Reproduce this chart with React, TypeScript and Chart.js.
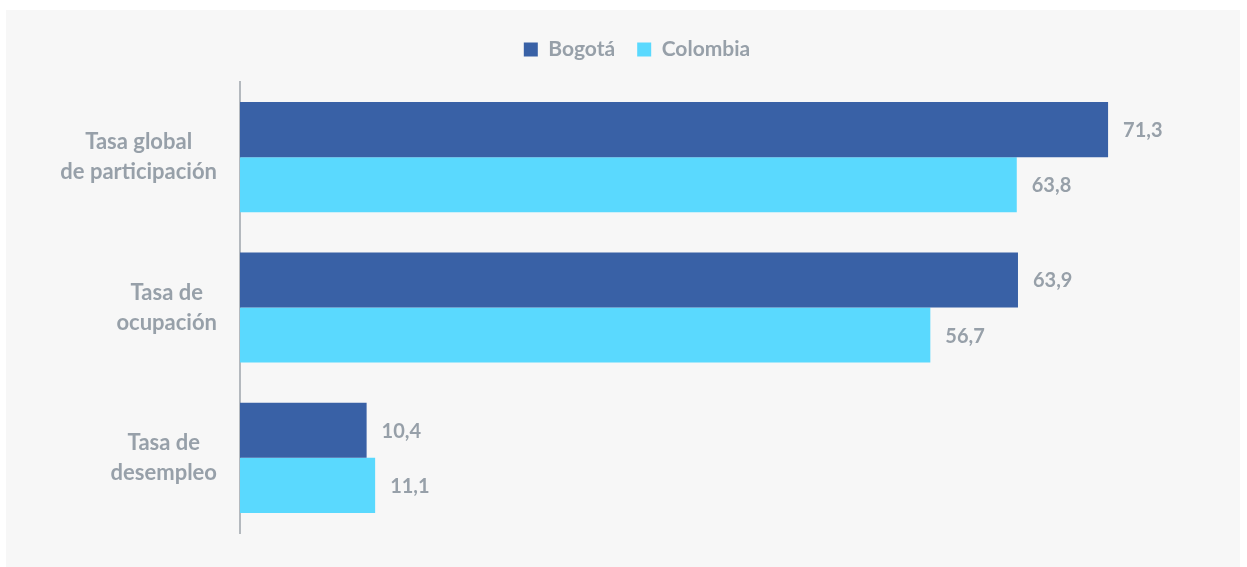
import React, { useEffect, useRef } from "react";
import { Chart, registerables } from "chart.js";

Chart.register(...registerables);

const categories: string[][] = [
  ["Tasa global", "de participación"],
  ["Tasa de", "ocupación"],
  ["Tasa de", "desempleo"],
];
const seriesNames = ["Bogotá", "Colombia"];
const bogota = [71.3, 63.9, 10.4];
const colombia = [63.8, 56.7, 11.1];
const colors = ["#3961a6", "#5ad9fe"];
const textColor = "#97a0a9";
const fontFamily = "Lato, 'Open Sans', sans-serif";

const valueLabels = {
  id: "valueLabels",
  afterDatasetsDraw(chart: any) {
    const ctx = chart.ctx;
    ctx.save();
    ctx.font = `bold 20px ${fontFamily}`;
    ctx.fillStyle = textColor;
    ctx.textAlign = "left";
    ctx.textBaseline = "middle";
    chart.data.datasets.forEach((ds: any, i: number) => {
      const meta = chart.getDatasetMeta(i);
      meta.data.forEach((el: any, j: number) => {
        const v = ds.data[j] as number;
        ctx.fillText(v.toFixed(1).replace(".", ","), el.x + 15, el.y + 1);
      });
    });
    ctx.restore();
  },
};

const categoryLabels = {
  id: "categoryLabels",
  afterDraw(chart: any) {
    const ctx = chart.ctx;
    const yScale = chart.scales.y;
    const right = chart.chartArea.left - 23;
    ctx.save();
    ctx.font = `bold 22px ${fontFamily}`;
    ctx.fillStyle = textColor;
    ctx.textAlign = "center";
    ctx.textBaseline = "middle";
    categories.forEach((lines, i) => {
      const cy = yScale.getPixelForValue(i);
      const w = Math.max(...lines.map((l) => ctx.measureText(l).width));
      const cx = right - w / 2;
      const lh = 30;
      lines.forEach((l, k) => {
        const y = cy + (k - (lines.length - 1) / 2) * lh;
        ctx.fillText(l, cx, y);
      });
    });
    ctx.restore();
  },
};

const legendSpacing = {
  id: "legendSpacing",
  beforeInit(chart: any) {
    const legend = chart.legend;
    if (!legend) return;
    const origFit = legend.fit;
    legend.fit = function () {
      origFit.bind(this)();
      this.height = 65;
    };
  },
};

export default function App() {
  const ref = useRef<HTMLCanvasElement>(null);
  useEffect(() => {
    if (!ref.current) return;
    const chart = new Chart(ref.current, {
      type: "bar",
      data: {
        labels: categories.map((c) => c.join(" ")),
        datasets: [
          {
            label: seriesNames[0],
            data: bogota,
            backgroundColor: colors[0],
            borderWidth: 0,
            categoryPercentage: 0.733,
            barPercentage: 1,
          },
          {
            label: seriesNames[1],
            data: colombia,
            backgroundColor: colors[1],
            borderWidth: 0,
            categoryPercentage: 0.733,
            barPercentage: 1,
          },
        ],
      },
      options: {
        indexAxis: "y",
        animation: false,
        responsive: false,
        maintainAspectRatio: false,
        layout: { padding: { top: 7, right: 26, bottom: 34, left: 54 } },
        plugins: {
          legend: {
            position: "top",
            labels: {
              boxWidth: 14,
              boxHeight: 14,
              padding: 22,
              color: textColor,
              font: { family: fontFamily, size: 21, weight: "bold" },
            },
          },
          tooltip: { enabled: false },
        },
        scales: {
          x: { display: false, min: 0, max: 80 },
          y: {
            grid: { display: false },
            border: { display: true, color: "#b4b9be", width: 2 },
            ticks: { display: false },
            afterFit(scale: any) {
              scale.width = 180;
            },
          },
        },
      },
      plugins: [legendSpacing, valueLabels, categoryLabels],
    });
    return () => chart.destroy();
  }, []);
  return (
    <div
      style={{
        position: "absolute",
        left: 6,
        top: 10,
        width: 1234,
        height: 557,
        background: "#f7f7f7",
      }}
    >
      <canvas ref={ref} width={1234} height={557} style={{ display: "block" }} />
    </div>
  );
}
